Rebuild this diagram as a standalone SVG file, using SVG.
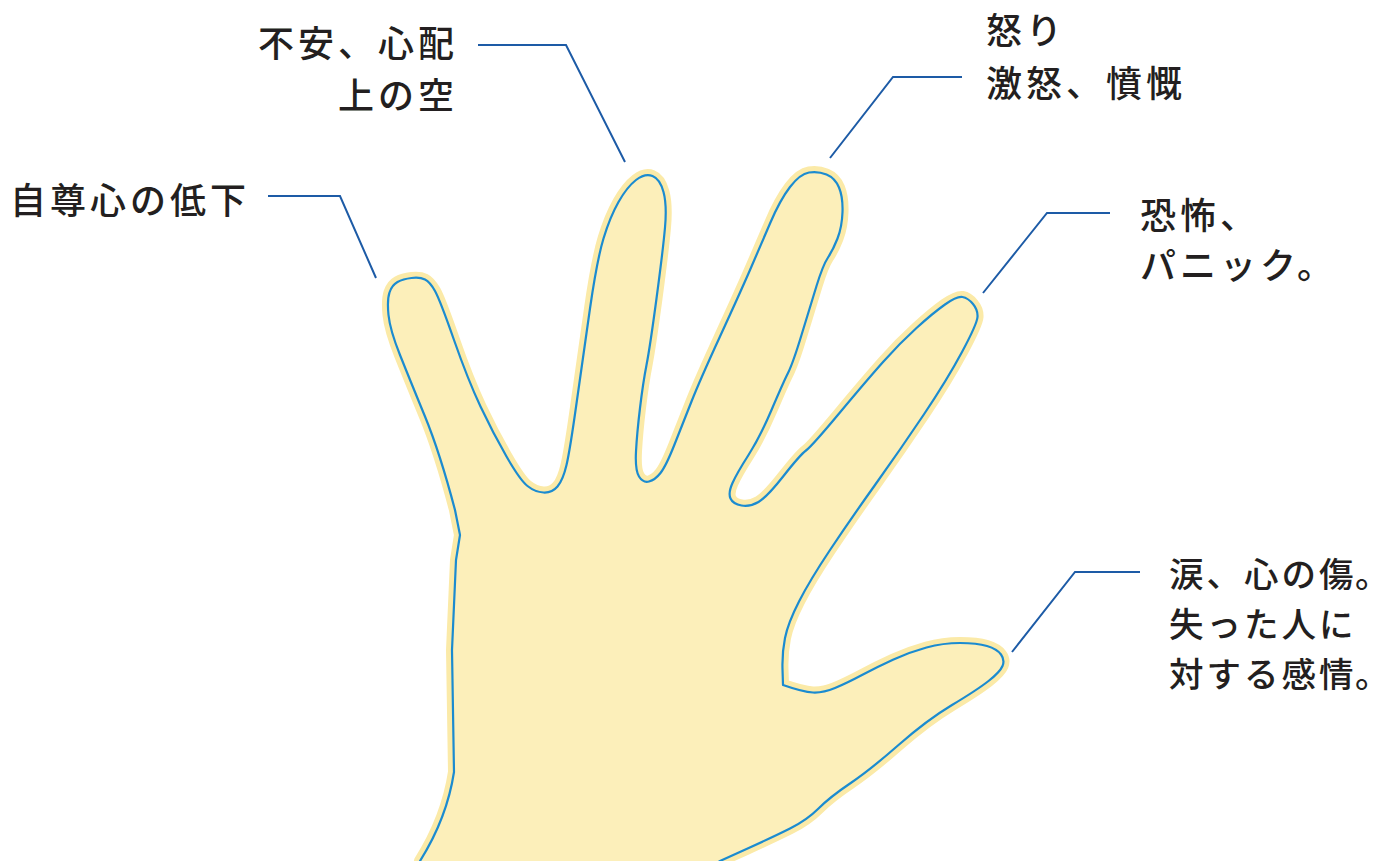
<svg xmlns="http://www.w3.org/2000/svg" width="1390" height="861" viewBox="0 0 1390 861">
  <style>
    .label { font-family: "Noto Sans CJK JP", "Noto Sans CJK SC", sans-serif; font-size: 36px; font-weight: 500; letter-spacing: 4px; fill: #231f20; }
    .label.tight { font-size: 34.5px; letter-spacing: 0; }
    .lead { fill: none; stroke: #1d5ba6; stroke-width: 2; stroke-linejoin: miter; }
    .halo { fill: #fbeaa8; stroke: #fbeaa8; stroke-width: 12; stroke-linejoin: round; }
    .skin { fill: #fcefba; stroke: #1b8bd0; stroke-width: 2.2; stroke-linejoin: round; }
  </style>
  <defs>
    <path id="handShape" d="M 415 880 L 420 861 Q 447 818 454 772 L 452 650 L 456 560 L 460 535 L 455 510
      Q 440 453 425 416.5 Q 410 380 400 355 Q 390 330 388.5 315 Q 387 300 389.5 292.5 Q 392 285 397.5 282
      Q 403 279 411.5 278 Q 420 277 425 279.5 Q 430 282 435 291 Q 440 300 454 340 Q 468 380 480.5 406.5
      Q 493 433 506.5 456.5 Q 520 480 527.5 486 Q 535 492 543.5 492.5 Q 552 493 557.5 486.5 Q 563 480 566.5 465
      Q 570 450 576.5 403.5 Q 583 357 590 308.5 Q 597 260 603.5 238.5 Q 610 217 618.5 202 Q 627 187 636 180
      Q 645 173 652.5 176 Q 660 179 663.5 192 Q 667 205 665 227.5 Q 663 250 656.5 298.5 Q 650 347 646.5 365
      Q 643 383 640 408 Q 637 433 636 451.5 Q 635 470 639 476.5 Q 643 483 649 481.5 Q 655 480 660.5 473
      Q 666 466 674.5 444.5 Q 683 423 691.5 401.5 Q 700 380 720 336.5 Q 740 293 750 270 Q 760 247 770 223.5
      Q 780 200 790 187 Q 800 174 809 172.5 Q 818 171 826.5 174.5 Q 835 178 839 187.5 Q 843 197 842.5 212
      Q 842 227 837.5 238.5 Q 833 250 828 257.5 Q 823 265 816.5 286 Q 810 307 801.5 335 Q 793 363 788 373
      Q 783 383 771.5 410 Q 760 437 748.5 455 Q 737 473 732.5 483 Q 728 493 730.5 498.5 Q 733 504 741.5 505.5
      Q 750 507 758.5 502 Q 767 497 783.5 476 Q 800 455 806 450.5 Q 812 446 839.5 413 Q 867 380 883.5 361.5
      Q 900 343 916.5 328 Q 933 313 945 304.5 Q 957 296 962.5 297 Q 968 298 973 304 Q 978 310 977.5 317
      Q 977 324 962 352 Q 947 380 923.5 415 Q 900 450 875 485 Q 850 520 830 550 Q 810 580 799 601.5
      Q 788 623 785 638 Q 782 653 782.5 669 L 783 685
      Q 803 692 813 692.5 Q 823 693 835 688 Q 847 683 862 675 Q 877 667 893.5 659.5 Q 910 652 926.5 647.5
      Q 943 643 960 643 Q 977 643 987 646 Q 997 649 1001 654.5 Q 1005 660 1002.5 666 Q 1000 672 988.5 681
      Q 977 690 952 705 Q 927 720 898.5 745 Q 870 770 850 783.5 Q 830 797 818.5 808.5 Q 807 820 790 828.5
      Q 773 837 746.5 849 L 720 861 L 690 880 Z"/>
  </defs>

  <!-- open hand with soft yellow rim -->
  <g id="hand">
    <use href="#handShape" class="halo"/>
    <use href="#handShape" class="skin"/>
  </g>

  <!-- leader lines from each finger to its caption -->
  <g id="connectors">
    <polyline class="lead" points="478,45 566,45 625,162"/>
    <polyline class="lead" points="268,196 340,196 376,278"/>
    <polyline class="lead" points="962,77 893,77 830,158"/>
    <polyline class="lead" points="1110,213 1047,213 983,293"/>
    <polyline class="lead" points="1140,572 1075,572 1012,652"/>
  </g>

  <g id="label-ring">
    <text class="label" x="258" y="57">不安、心配</text>
    <text class="label" x="338" y="109">上の空</text>
  </g>
  <g id="label-pinky">
    <text class="label" x="10" y="214">自尊心の低下</text>
  </g>
  <g id="label-middle">
    <text class="label" x="986" y="44">怒り</text>
    <text class="label" x="986" y="97">激怒、憤慨</text>
  </g>
  <g id="label-index">
    <text class="label" x="1140" y="229">恐怖、</text>
    <text class="label" x="1140" y="279">パニック。</text>
  </g>
  <!-- thumb caption sits against the right edge, so glyphs are placed one by one -->
  <g id="label-thumb">
    <text class="label tight" x="1169 1206.5 1244 1281.5 1319 1355" y="587">涙、心の傷。</text>
    <text class="label tight" x="1169 1206.5 1244 1281.5 1319" y="637">失った人に</text>
    <text class="label tight" x="1169 1206.5 1244 1281.5 1319 1355" y="687">対する感情。</text>
  </g>
</svg>
